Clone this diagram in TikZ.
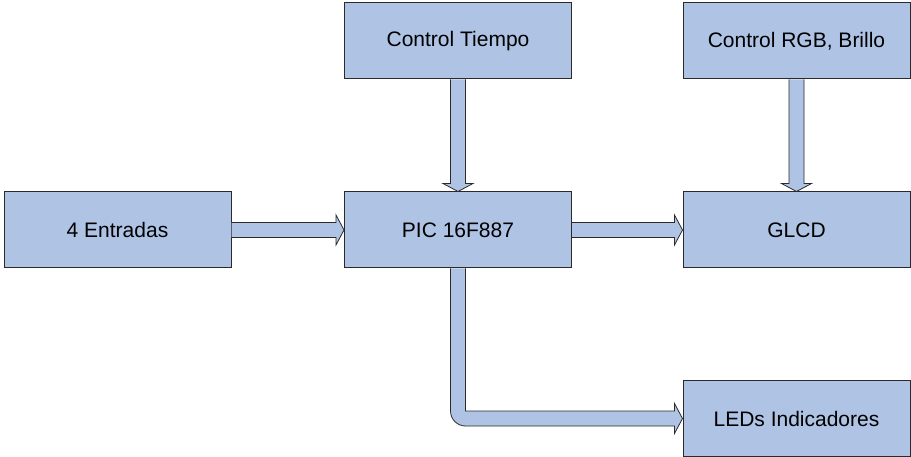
\documentclass[tikz,border=0pt]{standalone}
\usepackage{fontspec}
\setmainfont{Liberation Sans}
\usetikzlibrary{calc}
\definecolor{boxfill}{HTML}{AFC3E4}
\definecolor{boxline}{HTML}{2A2A2A}
\tikzset{
  block/.style={draw=boxline, line width=1pt, fill=boxfill, minimum width=227pt, minimum height=76pt, inner sep=0pt,
    font=\fontsize{21}{25}\selectfont},
  barrow/.style={draw=boxline, line width=0.8pt, fill=boxfill, line join=miter}
}
\newcommand\vblockarrow[2]{%
  \draw[barrow] ($(#1.south)+(-7.5,0)$) -- ($(#2.north)+(-7.5,-8)$) -- ($(#2.north)+(-15,-8)$) -- (#2.north)
    -- ($(#2.north)+(15,-8)$) -- ($(#2.north)+(7.5,-8)$) -- ($(#1.south)+(7.5,0)$);}
\newcommand\hblockarrow[2]{%
  \draw[barrow] ($(#1.east)+(0,-7.5)$) -- ($(#2.west)+(-8,-7.5)$) -- ($(#2.west)+(-8,-15)$) -- (#2.west)
    -- ($(#2.west)+(-8,15)$) -- ($(#2.west)+(-8,7.5)$) -- ($(#1.east)+(0,7.5)$);}
\begin{document}
\begin{tikzpicture}[x=1pt,y=-1pt]
\useasboundingbox (0,0) rectangle (911,457);
\node[block] (ct)   at (458,41)    {Control Tiempo};
\node[block] (rgb)  at (796.5,41)  {Control RGB, Brillo};
\node[block] (entr) at (117.5,230) {4 Entradas};
\node[block] (pic)  at (458,230)   {PIC 16F887};
\node[block] (glcd) at (796.5,230) {GLCD};
\node[block] (leds) at (796.5,418.5) {LEDs Indicadores};
\vblockarrow{ct}{pic}
\vblockarrow{rgb}{glcd}
\hblockarrow{entr}{pic}
\hblockarrow{pic}{glcd}
\coordinate (bend) at (pic.south |- leds.west);
\draw[barrow] ($(pic.south)+(-7.5,0)$) [rounded corners=15pt] -- ($(bend)+(-7.5,7.5)$) [sharp corners] -- ($(leds.west)+(-8,7.5)$)
  -- ($(leds.west)+(-8,15)$) -- (leds.west) -- ($(leds.west)+(-8,-15)$) -- ($(leds.west)+(-8,-7.5)$)
  -- ($(bend)+(7.5,-7.5)$) -- ($(pic.south)+(7.5,0)$);
\end{tikzpicture}
\end{document}
